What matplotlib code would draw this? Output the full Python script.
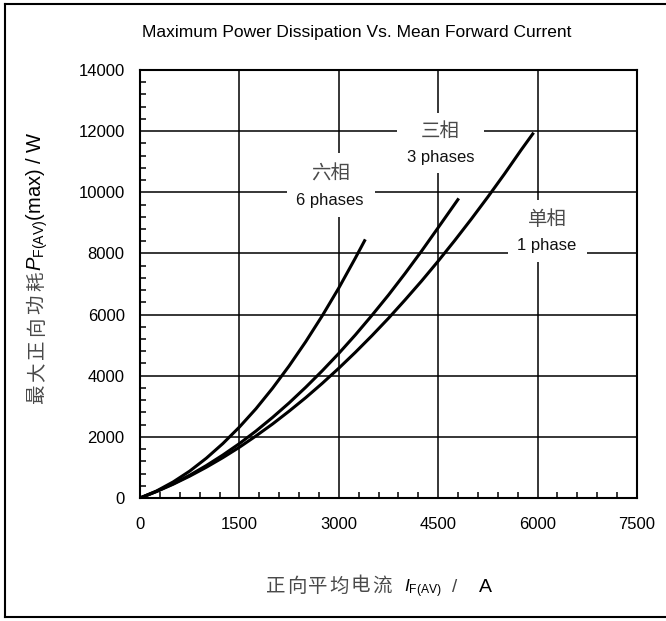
import matplotlib
matplotlib.use("Agg")
import matplotlib.pyplot as plt
from matplotlib.ticker import MultipleLocator
from matplotlib.lines import Line2D
from matplotlib.patches import Rectangle

plt.rcParams['font.family'] = ['Liberation Sans', 'Noto Sans CJK SC', 'DejaVu Sans']
plt.rcParams['mathtext.fontset'] = 'custom'
plt.rcParams['mathtext.rm'] = 'Liberation Sans'
plt.rcParams['mathtext.it'] = 'Liberation Sans:italic'
plt.rcParams['mathtext.bf'] = 'Liberation Sans:bold'

# ---- data ----
i_six = [0, 250, 500, 750, 1000, 1250, 1500, 1750, 2000, 2250, 2500, 2750, 3000, 3250, 3400]
p_six = [0, 230, 525, 880, 1300, 1780, 2320, 2920, 3590, 4320, 5110, 5960, 6870, 7850, 8460]

i_three = [0, 250, 500, 750, 1000, 1250, 1500, 1750, 2000, 2250, 2500, 2750, 3000, 3250,
           3500, 3750, 4000, 4250, 4500, 4810]
p_three = [0, 215, 465, 745, 1060, 1405, 1780, 2190, 2635, 3110, 3620, 4160, 4730, 5335,
           5975, 6640, 7345, 8080, 8845, 9800]

i_one = [0, 250, 500, 750, 1000, 1250, 1500, 1750, 2000, 2250, 2500, 2750, 3000, 3250,
         3500, 3750, 4000, 4250, 4500, 4750, 5000, 5250, 5500, 5750, 5940]
p_one = [0, 213, 450, 715, 1005, 1320, 1660, 2030, 2420, 2840, 3280, 3750, 4245, 4765,
         5310, 5880, 6480, 7100, 7750, 8425, 9125, 9850, 10600, 11380, 11950]

x_ticks = [0, 1500, 3000, 4500, 6000, 7500]
y_ticks = [0, 2000, 4000, 6000, 8000, 10000, 12000, 14000]

title = "Maximum Power Dissipation Vs. Mean Forward Current"
labels_cn = ["六相", "三相", "单相"]
labels_en = ["6 phases", "3 phases", "1 phase"]
ylabel_cn = "最大正向功耗"
ylabel_sym = "$P_{\\mathrm{F(AV)}}$(max) / W"
xlabel_cn = "正向平均电流"
xlabel_sym = "$I_{\\mathrm{F(AV)}}$"
xlabel_sep = "/"
xlabel_unit = "A"

W, H = 666, 621
fig = plt.figure(figsize=(W / 100, H / 100), dpi=100)
ax = fig.add_axes([140 / W, 1 - 498 / H, (637 - 140) / W, (498 - 70) / H])

for x, y in [(i_six, p_six), (i_three, p_three), (i_one, p_one)]:
    ax.plot(x, y, color='black', lw=2.2, solid_capstyle='butt', zorder=3)

ax.set_xlim(0, 7500)
ax.set_ylim(0, 14000)
ax.set_xticks(x_ticks)
ax.set_yticks(y_ticks)
ax.xaxis.set_minor_locator(MultipleLocator(300))
ax.yaxis.set_minor_locator(MultipleLocator(400))
ax.tick_params(which='both', direction='in', top=False, right=False)
ax.tick_params(which='major', length=0, labelsize=12, colors='black')
ax.tick_params(axis='x', which='major', pad=14)
ax.tick_params(axis='y', which='major', pad=11)
ax.tick_params(which='minor', length=4.5, width=1.1, color='black')
ax.grid(True, which='major', color='black', lw=1.1, zorder=1)
for s in ax.spines.values():
    s.set_linewidth(1.5)
    s.set_zorder(4)

cjk = ['Noto Sans CJK SC', 'DejaVu Sans']
cjk_col = '#4a4a4a'

# series labels: white boxes (figure pixels) interrupting the grid
box_px = [(287, 375, 153, 217), (397, 484, 113, 173), (508, 587, 200, 262)]
for x0, x1, y0, y1 in box_px:
    ax.add_patch(Rectangle((x0 / W, 1 - y1 / H), (x1 - x0) / W, (y1 - y0) / H,
                           transform=fig.transFigure, fc='white', ec='none',
                           zorder=2, clip_on=False))
label_x = [2870, 4537, 6141]
label_y_cn = [10582, 11989, 9110]
label_y_en = [9715, 11122, 8260]
for cn, en, lx, yc, ye in zip(labels_cn, labels_en, label_x, label_y_cn, label_y_en):
    ax.text(lx, yc, cn, ha='center', va='center', fontsize=14, family=cjk,
            color=cjk_col, fontweight='light', zorder=2.5)
    ax.text(lx, ye, en, ha='center', va='center', fontsize=12, color='#111111',
            zorder=2.5)

fig.text(357 / W, 1 - 33 / H, title, ha='center', va='center', fontsize=12.5)

# y label: CJK characters stacked with wide spacing, then the symbol
pitch_y = 22.6
for k, ch in enumerate(ylabel_cn):
    fig.text(37 / W, 1 - (394.5 - k * pitch_y) / H, ch, rotation=90, ha='center',
             va='center', fontsize=14, family=cjk, color=cjk_col, fontweight='light')
fig.text(37 / W, 1 - 271 / H, ylabel_sym, rotation=90, ha='center', va='bottom',
         fontsize=14.5, color='black')

# x label
pitch_x = 21.2
for k, ch in enumerate(xlabel_cn):
    fig.text((275.5 + k * pitch_x) / W, 1 - 586 / H, ch, ha='center', va='center',
             fontsize=14, family=cjk, color=cjk_col, fontweight='light')
fig.text(404 / W, 1 - 592 / H, xlabel_sym, ha='left', va='baseline',
         fontsize=12.5, color='black')
fig.text(455 / W, 1 - 592 / H, xlabel_sep, ha='center', va='baseline',
         fontsize=13.5, color='#444444')
fig.text(479 / W, 1 - 592 / H, xlabel_unit, ha='left', va='baseline',
         fontsize=14, color='black')

# figure frame (left, top, bottom)
for xs, ys in [([5, 5], [4, 617]), ([5, W + 5], [4, 4]), ([5, W + 5], [617, 617])]:
    fig.add_artist(Line2D([v / W for v in xs], [1 - v / H for v in ys],
                          transform=fig.transFigure, color='black', lw=1.5))

fig.savefig("out.png", dpi=100)
